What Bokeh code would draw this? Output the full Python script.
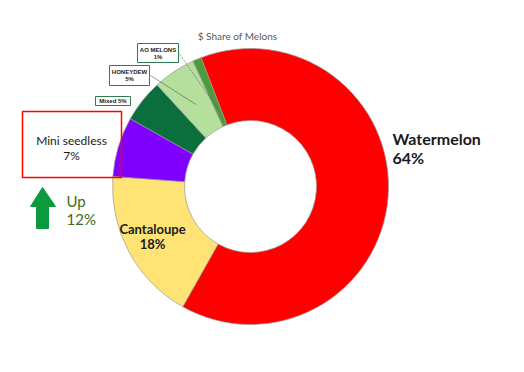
import math
from bokeh.plotting import figure
from bokeh.models import Range1d, ColumnDataSource
from bokeh.core.properties import value
from bokeh.embed import file_html
from bokeh.resources import INLINE

# ---- data ----
categories = ["Watermelon", "Cantaloupe", "Mini seedless", "Mixed", "Honeydew", "AO Melons"]
shares = [64, 18, 7, 5, 5, 1]
colors = ["#FF0000", "#FFE374", "#7F00FF", "#0A6E3D", "#B5DF9C", "#4E9B3A"]
up_change = 12

W, H = 508, 356
def Y(y):  # image y -> data y
    return 372 - y

p = figure(width=W, height=H, x_range=Range1d(0, 508), y_range=Range1d(16, 372),
           output_backend="svg", toolbar_location=None, min_border=0)
p.axis.visible = False
p.grid.visible = False
p.outline_line_color = None
p.background_fill_color = "white"

cx, cy = 250, Y(186)
r_out, r_in = 138, 66
start_bearing = -21.0
total = sum(shares)
starts, ends, mids = [], [], []
cum = 0
for s in shares:
    b0 = start_bearing + cum / total * 360
    b1 = start_bearing + (cum + s) / total * 360
    cum += s
    starts.append(math.radians(90 - b1))
    ends.append(math.radians(90 - b0))
    mids.append(math.radians(90 - (b0 + b1) / 2))

src = ColumnDataSource(dict(cat=categories, val=shares, color=colors,
                            start=starts, end=ends))
p.annular_wedge(x=cx, y=cy, inner_radius=r_in, outer_radius=r_out,
                start_angle="start", end_angle="end", direction="anticlock",
                fill_color="color", line_color="#9a9a9a", line_width=0.7,
                source=src)

font = value("Lato")

# title
p.text(x=[237], y=[Y(35)], text=["$ Share of Melons"], text_font=font,
       text_font_size="10px", text_color="#595959", text_align="center",
       text_baseline="middle")

# Watermelon label
p.text(x=[392], y=[Y(138)], text=[f"{categories[0]}"], text_font=font, text_font_style="bold",
       text_font_size="16px", text_color="#1a1a1a", text_align="left", text_baseline="middle")
p.text(x=[392], y=[Y(157)], text=[f"{shares[0]}%"], text_font=font, text_font_style="bold",
       text_font_size="16px", text_color="#1a1a1a", text_align="left", text_baseline="middle")

# Cantaloupe label
p.text(x=[152], y=[Y(228)], text=[categories[1]], text_font=font, text_font_style="bold",
       text_font_size="13px", text_color="#1a1a1a", text_align="center", text_baseline="middle")
p.text(x=[152], y=[Y(243)], text=[f"{shares[1]}%"], text_font=font, text_font_style="bold",
       text_font_size="13px", text_color="#1a1a1a", text_align="center", text_baseline="middle")

# Mini seedless box
p.quad(left=[22], right=[121], top=[Y(111)], bottom=[Y(177)], fill_color="white",
       fill_alpha=0, line_color="#FF0000", line_width=1.5)
p.text(x=[71], y=[Y(140)], text=[categories[2]], text_font=font, text_font_size="12px",
       text_color="#1a1a1a", text_align="center", text_baseline="middle")
p.text(x=[71], y=[Y(155)], text=[f"{shares[2]}%"], text_font=font, text_font_size="12px",
       text_color="#1a1a1a", text_align="center", text_baseline="middle")

# Up arrow
p.patch(x=[30, 42, 55, 48, 48, 36, 36], y=[Y(206), Y(187), Y(206), Y(206), Y(228), Y(228), Y(206)],
        fill_color="#0C9A3E", line_color="#0C9A3E")
p.text(x=[66], y=[Y(200)], text=["Up"], text_font=font, text_font_size="15px",
       text_color="#3F6B22", text_align="left", text_baseline="middle")
p.text(x=[66], y=[Y(218)], text=[f"{up_change}%"], text_font=font, text_font_size="15px",
       text_color="#3F6B22", text_align="left", text_baseline="middle")

# small callout boxes
box_col = "#2E7D4F"
def small_box(l, r, t, b, lines):
    p.quad(left=[l], right=[r], top=[Y(t)], bottom=[Y(b)], fill_color="white",
           line_color=box_col, line_width=1)
    n = len(lines)
    for i, s in enumerate(lines):
        yy = (t + b) / 2 + (i - (n - 1) / 2) * 7
        p.text(x=[(l + r) / 2], y=[Y(yy)], text=[s], text_font=value("Liberation Sans"),
               text_font_style="bold", text_font_size="6px", text_color="#222222",
               text_align="center", text_baseline="middle")

# leader lines
def wedge_pt(i, frac):
    rr = r_in + (r_out - r_in) * frac
    return cx + rr * math.cos(mids[i]), cy + rr * math.sin(mids[i])

hx, hy = wedge_pt(4, 0.45)
p.line(x=[150, hx], y=[Y(75), hy], line_color="#555555", line_width=0.6)
ax, ay = wedge_pt(5, 0.25)
p.line(x=[178, ax], y=[Y(52), ay], line_color="#555555", line_width=0.6, line_dash="2 1")

small_box(137, 178, 43, 62, ["AO MELONS", f"{shares[5]}%"])
small_box(109, 149, 65, 85, ["HONEYDEW", f"{shares[4]}%"])
small_box(95, 130, 96, 105, [f"Mixed {shares[3]}%"])

open("out.html", "w").write(file_html(p, INLINE))
